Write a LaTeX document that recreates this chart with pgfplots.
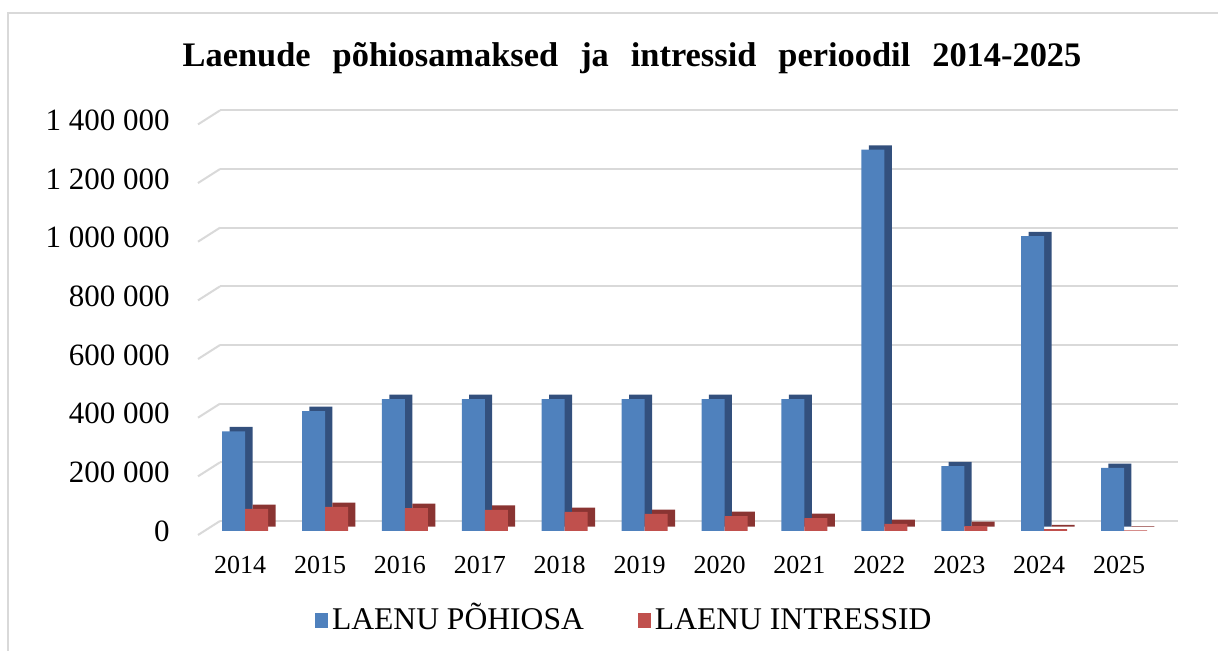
\documentclass[border=0pt]{standalone}
\usepackage{pgfplots}
\pgfplotsset{compat=1.18}
\usepackage{fontspec}
\setmainfont{Liberation Serif}
\definecolor{bluef}{HTML}{4F81BD}
\definecolor{blued}{HTML}{33507D}
\definecolor{redf}{HTML}{C0504D}
\definecolor{redd}{HTML}{8A3432}
\definecolor{gridc}{HTML}{D9D9D9}
\begin{document}
\begin{tikzpicture}
\path[use as bounding box] (0pt,0pt) rectangle (609pt,325.5pt);
\draw[gridc, line width=1pt] (4pt,0pt) -- (4pt,319pt) -- (609pt,319pt);
\node[anchor=base, font=\fontsize{17.2}{19}\selectfont\bfseries] at (316pt,292pt)
  {\spaceskip=11pt Laenude põhiosamaksed ja intressid perioodil 2014-2025};
\begin{axis}[
  at={(99pt,60pt)}, anchor=south west,
  scale only axis, width=479pt, height=205.3pt,
  xmin=-0.59, xmax=11.4, ymin=0, ymax=1400000,
  clip=false,
  axis line style={draw=none},
  major tick length=0pt,
  scaled y ticks=false,
  ymajorgrids, grid style={gridc, line width=1pt, xshift=11pt, yshift=5pt},
  ytick={0,200000,400000,600000,800000,1000000,1200000,1400000},
  yticklabels={0,{200 000},{400 000},{600 000},{800 000},{1 000 000},{1 200 000},{1 400 000}},
  yticklabel style={anchor=east, inner sep=0pt, xshift=-14pt, font=\fontsize{15.5}{17}\selectfont},
  xtick={0,...,11},
  xticklabels={2014,2015,2016,2017,2018,2019,2020,2021,2022,2023,2024,2025},
  xticklabel style={anchor=center, yshift=-17pt, xshift=-2.5pt, font=\fontsize{13}{15}\selectfont},
  ybar=0pt, bar width=11.5pt,
  legend columns=2,
  legend style={at={(0.446,-0.219)}, anchor=center, draw=none, fill=none,
    font=\fontsize{15.8}{17}\selectfont,
    nodes={text height=11pt, text depth=2pt, anchor=base west},
    /tikz/every even column/.append style={column sep=25pt}},
  legend image code/.code={\fill[#1] (0pt,1.2pt) rectangle (6.5pt,8.4pt);},
]
\pgfplotsinvokeforeach{0,200000,400000,600000,800000,1000000,1200000,1400000}{
  \draw[gridc, line width=1pt] ([yshift=-2pt]axis cs:-0.59,#1) -- ([xshift=11pt,yshift=5pt]axis cs:-0.59,#1);
}
\addplot[forget plot, fill=blued, draw=none, bar shift=-5.75pt, xshift=3.7pt, yshift=2.2pt] coordinates {
 (0,340000) (1,409000) (2,450000) (3,450000) (4,450000) (5,450000) (6,450000) (7,450000) (8,1300000) (9,221000) (10,1005000) (11,215000)};
\addplot[fill=bluef, draw=none, bar shift=-5.75pt] coordinates {
 (0,340000) (1,409000) (2,450000) (3,450000) (4,450000) (5,450000) (6,450000) (7,450000) (8,1300000) (9,221000) (10,1005000) (11,215000)};
\addlegendentry{LAENU PÕHIOSA}
\addplot[forget plot, fill=redd, draw=none, bar shift=5.75pt, xshift=3.7pt, yshift=2.2pt] coordinates {
 (0,75000) (1,82000) (2,78000) (3,72000) (4,65000) (5,58000) (6,51000) (7,44000) (8,24000) (9,17000) (10,6000) (11,2000)};
\addplot[fill=redf, draw=none, bar shift=5.75pt] coordinates {
 (0,75000) (1,82000) (2,78000) (3,72000) (4,65000) (5,58000) (6,51000) (7,44000) (8,24000) (9,17000) (10,6000) (11,2000)};
\addlegendentry{LAENU INTRESSID}
\end{axis}
\end{tikzpicture}
\end{document}
